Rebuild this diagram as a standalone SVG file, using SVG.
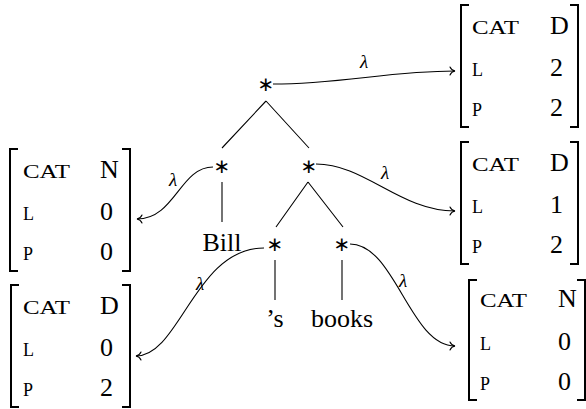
<svg xmlns="http://www.w3.org/2000/svg" width="586" height="409" viewBox="0 0 586 409">
<defs>
<style>
.t{font-family:"Liberation Serif","DejaVu Serif",serif;font-size:26px;fill:#000}
.k{font-family:"Liberation Serif","DejaVu Serif",serif;font-size:18px;fill:#000}
.ast{font-family:"DejaVu Sans",sans-serif;font-size:20px;fill:#000;text-anchor:middle}
.lam{font-family:"Liberation Serif","DejaVu Serif",serif;font-size:19px;font-style:italic;fill:#000;text-anchor:middle}
.br{fill:none;stroke:#000;stroke-width:2}
.e{fill:none;stroke:#000;stroke-width:1.1}
.c{fill:none;stroke:#000;stroke-width:1.1;marker-end:url(#ah)}
.mid{text-anchor:middle}
</style>
<marker id="ah" viewBox="-7 -6 9 12" refX="0" refY="0" markerWidth="9" markerHeight="12" orient="auto" markerUnits="userSpaceOnUse">
<path d="M-5,-4 C-4,-1.5 -1.5,-0.3 0,0 C-1.5,0.3 -4,1.5 -5,4" fill="none" stroke="#000" stroke-width="1.1" stroke-linecap="round"/>
</marker>
</defs>

<g id="connectors">
<path class="e" d="M266,101 L222,148 M266,101 L309,148"/>
<path class="e" d="M222,182 L222,222"/>
<path class="e" d="M308,182 L276,227 M308,182 L343,227"/>
<path class="e" d="M275,260 L275,300 M342,260 L342,300"/>
<path class="c" d="M273,84 C340,84 390,71 455,71"/>
<path class="c" d="M213,167 C180,167 175,219 137,219"/>
<path class="c" d="M316,164 C365,164 400,211 455,211"/>
<path class="c" d="M264,248 C195,248 180,356 136,356"/>
<path class="c" d="M350,244 C395,244 410,346 455,346"/>
<text class="lam" x="364" y="68">λ</text>
<text class="lam" x="173" y="186">λ</text>
<text class="lam" x="385" y="179">λ</text>
<text class="lam" x="200" y="290">λ</text>
<text class="lam" x="403" y="287">λ</text>
</g>

<g id="n-root"><text class="ast" x="266" y="91">∗</text></g>
<g id="n-left"><text class="ast" x="222" y="173">∗</text></g>
<g id="n-right"><text class="ast" x="309" y="173">∗</text></g>
<g id="n-poss"><text class="ast" x="275" y="251">∗</text></g>
<g id="n-books"><text class="ast" x="342" y="251">∗</text></g>
<g id="w-bill"><text class="t mid" x="222" y="251">Bill</text></g>
<g id="w-s"><text class="t mid" x="275" y="327">’s</text></g>
<g id="w-books"><text class="t mid" x="342" y="327">books</text></g>

<g id="m-root">
<path class="br" d="M469,5 H461 V127 H469"/>
<path class="br" d="M570,5 H578 V127 H570"/>
<text class="k" x="472" y="34" textLength="47" lengthAdjust="spacingAndGlyphs">CAT</text><text class="t" x="550" y="34">D</text>
<text class="k" x="472" y="76">L</text><text class="t" x="550" y="76">2</text>
<text class="k" x="472" y="116">P</text><text class="t" x="550" y="116">2</text>
</g>

<g id="m-right">
<path class="br" d="M469,142 H461 V264 H469"/>
<path class="br" d="M570,142 H578 V264 H570"/>
<text class="k" x="472" y="171" textLength="47" lengthAdjust="spacingAndGlyphs">CAT</text><text class="t" x="550" y="171">D</text>
<text class="k" x="472" y="213">L</text><text class="t" x="550" y="213">1</text>
<text class="k" x="472" y="253">P</text><text class="t" x="550" y="253">2</text>
</g>

<g id="m-books">
<path class="br" d="M477,280 H469 V400 H477"/>
<path class="br" d="M577,280 H585 V400 H577"/>
<text class="k" x="480" y="307" textLength="47" lengthAdjust="spacingAndGlyphs">CAT</text><text class="t" x="558" y="307">N</text>
<text class="k" x="480" y="350">L</text><text class="t" x="558" y="350">0</text>
<text class="k" x="480" y="390">P</text><text class="t" x="558" y="390">0</text>
</g>

<g id="m-left">
<path class="br" d="M18,149 H10 V271 H18"/>
<path class="br" d="M122,149 H130 V271 H122"/>
<text class="k" x="23" y="178" textLength="47" lengthAdjust="spacingAndGlyphs">CAT</text><text class="t" x="100" y="178">N</text>
<text class="k" x="23" y="220">L</text><text class="t" x="100" y="220">0</text>
<text class="k" x="23" y="260">P</text><text class="t" x="100" y="260">0</text>
</g>

<g id="m-poss">
<path class="br" d="M19,285 H11 V407 H19"/>
<path class="br" d="M122,285 H130 V407 H122"/>
<text class="k" x="23" y="314" textLength="47" lengthAdjust="spacingAndGlyphs">CAT</text><text class="t" x="100" y="314">D</text>
<text class="k" x="23" y="356">L</text><text class="t" x="100" y="356">0</text>
<text class="k" x="23" y="396">P</text><text class="t" x="100" y="396">2</text>
</g>
</svg>
